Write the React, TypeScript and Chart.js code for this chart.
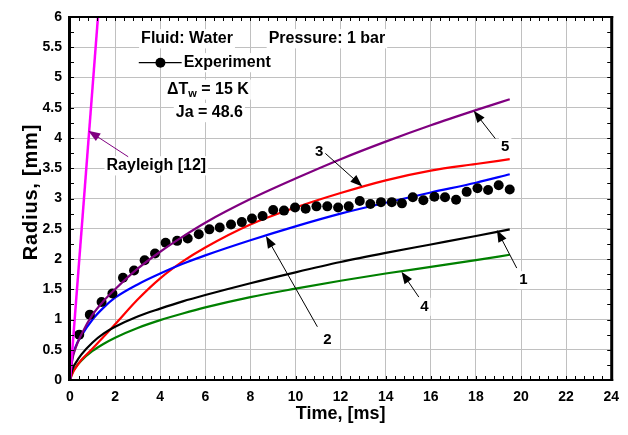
import React, { useEffect, useRef } from "react";
import { Chart, registerables } from "chart.js";

Chart.register(...registerables);

const FONT = '"Liberation Sans", Arial, sans-serif';

// Model curves sampled at these times (ms)
const curveTime = [0, 0.1, 0.25, 0.5, 1, 1.5, 2, 3, 4, 5, 6, 8, 10, 12, 14, 16, 18, 19.5];
const curve1Black = [0, 0.17, 0.28, 0.42, 0.62, 0.77, 0.88, 1.05, 1.18, 1.3, 1.405, 1.6, 1.78, 1.95, 2.1, 2.24, 2.38, 2.49];
const curve2Blue = [0, 0.35, 0.55, 0.73, 1.0, 1.2, 1.36, 1.58, 1.76, 1.92, 2.06, 2.31, 2.54, 2.75, 2.93, 3.1, 3.26, 3.4];
const curve3Red = [0, 0.1, 0.2, 0.33, 0.52, 0.72, 0.92, 1.33, 1.68, 1.96, 2.19, 2.57, 2.85, 3.09, 3.3, 3.46, 3.57, 3.65];
const curve4Green = [0, 0.12, 0.21, 0.32, 0.48, 0.6, 0.7, 0.86, 0.99, 1.1, 1.2, 1.37, 1.51, 1.64, 1.76, 1.87, 1.98, 2.07];
const curve5Purple = [0, 0.33, 0.53, 0.75, 1.08, 1.31, 1.5, 1.84, 2.12, 2.37, 2.6, 2.99, 3.33, 3.65, 3.94, 4.21, 4.46, 4.64];

// Rayleigh [12]
const rayleighTime = [0, 1.24];
const rayleighRadius = [0, 6];

// Experiment
const expTime = [0.41, 0.88, 1.4, 1.88, 2.35, 2.84, 3.31, 3.77, 4.24, 4.75, 5.22, 5.71, 6.18, 6.64, 7.14, 7.62, 8.07, 8.54, 9.01, 9.49, 9.98, 10.45, 10.93, 11.41, 11.89, 12.36, 12.85, 13.32, 13.79, 14.27, 14.72, 15.2, 15.67, 16.16, 16.63, 17.12, 17.59, 18.07, 18.54, 19.01, 19.5];
const expRadius = [0.75, 1.08, 1.29, 1.43, 1.69, 1.81, 1.98, 2.09, 2.27, 2.3, 2.34, 2.41, 2.49, 2.52, 2.57, 2.61, 2.67, 2.71, 2.81, 2.8, 2.85, 2.83, 2.87, 2.87, 2.85, 2.87, 2.96, 2.91, 2.94, 2.94, 2.92, 3.02, 2.97, 3.03, 3.02, 2.98, 3.11, 3.17, 3.14, 3.22, 3.15];

// Axes
const xMin = 0, xMax = 24, xStep = 2, xMinorStep = 0.4;
const yMin = 0, yMax = 6, yStep = 0.5, yMinorStep = 0.25;

// Curve labels: [label, textT, textR, tailT, tailR, headT, headR]
const curveLabels: [string, number, number, number, number, number, number][] = [
  ["1", 20.11, 1.65, 19.81, 1.85, 18.93, 2.48],
  ["2", 11.42, 0.67, 10.97, 0.88, 8.69, 2.38],
  ["3", 11.05, 3.77, 11.31, 3.75, 12.96, 3.2],
  ["4", 15.72, 1.21, 15.47, 1.37, 14.7, 1.79],
  ["5", 19.3, 3.85, 18.86, 3.99, 17.9, 4.45],
];

const pts = (xs: number[], ys: number[]) => xs.map((x, i) => ({ x, y: ys[i] }));

function drawArrow(ctx: CanvasRenderingContext2D, x1: number, y1: number, x2: number, y2: number, color: string) {
  const ang = Math.atan2(y2 - y1, x2 - x1);
  const len = 12, hw = 4.5;
  ctx.save();
  ctx.strokeStyle = color;
  ctx.fillStyle = color;
  ctx.lineWidth = 1;
  ctx.beginPath();
  ctx.moveTo(x1, y1);
  ctx.lineTo(x2 - Math.cos(ang) * len * 0.8, y2 - Math.sin(ang) * len * 0.8);
  ctx.stroke();
  ctx.beginPath();
  ctx.moveTo(x2, y2);
  ctx.lineTo(x2 - Math.cos(ang) * len - Math.sin(ang) * hw, y2 - Math.sin(ang) * len + Math.cos(ang) * hw);
  ctx.lineTo(x2 - Math.cos(ang) * len + Math.sin(ang) * hw, y2 - Math.sin(ang) * len - Math.cos(ang) * hw);
  ctx.closePath();
  ctx.fill();
  ctx.restore();
}

function boxText(ctx: CanvasRenderingContext2D, text: string, x: number, y: number, align: CanvasTextAlign, size: number) {
  ctx.save();
  ctx.font = `bold ${size}px ${FONT}`;
  const w = ctx.measureText(text).width;
  const left = align === "center" ? x - w / 2 : x;
  ctx.fillStyle = "#fff";
  ctx.fillRect(left - 2, y - size * 0.6, w + 4, size * 1.2);
  ctx.fillStyle = "#000";
  ctx.textAlign = "left";
  ctx.textBaseline = "middle";
  ctx.fillText(text, left, y);
  ctx.restore();
}

const decorPlugin = {
  id: "decor",
  afterDraw(chart: any) {
    const { ctx, chartArea: a, scales } = chart;
    const X = (v: number) => scales.x.getPixelForValue(v);
    const Y = (v: number) => scales.y.getPixelForValue(v);
    ctx.save();

    // minor ticks (inward)
    ctx.strokeStyle = "#000";
    ctx.lineWidth = 1;
    ctx.beginPath();
    for (let v = xMin; v <= xMax + 1e-9; v += xMinorStep) {
      const px = Math.round(X(v)) + 0.5;
      ctx.moveTo(px, a.bottom);
      ctx.lineTo(px, a.bottom - 4);
      ctx.moveTo(px, a.top);
      ctx.lineTo(px, a.top + 4);
    }
    for (let v = yMin; v <= yMax + 1e-9; v += yMinorStep) {
      const py = Math.round(Y(v)) + 0.5;
      ctx.moveTo(a.left, py);
      ctx.lineTo(a.left + 4, py);
      ctx.moveTo(a.right, py);
      ctx.lineTo(a.right - 4, py);
    }
    ctx.stroke();

    // frame
    ctx.fillStyle = "#000";
    ctx.fillRect(a.left - 2, a.top - 1, 3, a.bottom - a.top + 2);
    ctx.fillRect(a.right - 1, a.top - 1, 3, a.bottom - a.top + 2);
    ctx.fillRect(a.left - 2, a.top - 1, a.right - a.left + 4, 2);
    ctx.fillRect(a.left - 2, a.bottom - 1, a.right - a.left + 4, 2);

    // annotations
    boxText(ctx, "Fluid: Water", X(5.19), Y(5.64), "center", 16);
    boxText(ctx, "Pressure: 1 bar", X(8.81), Y(5.64), "left", 16);

    // legend
    const ly = Y(5.245);
    ctx.strokeStyle = "#000";
    ctx.lineWidth = 1.2;
    ctx.beginPath();
    ctx.moveTo(X(3.05), ly);
    ctx.lineTo(X(4.98), ly);
    ctx.stroke();
    ctx.beginPath();
    ctx.arc(X(4.01), ly, 5, 0, Math.PI * 2);
    ctx.fill();
    boxText(ctx, "Experiment", X(5.04), ly, "left", 16);

    // ΔTw
    {
      const x0 = X(4.3), y0 = Y(4.8);
      ctx.font = `bold 16px ${FONT}`;
      const w1 = ctx.measureText("\u0394T").width;
      const w3 = ctx.measureText(" = 15 K").width;
      ctx.font = `bold 11px ${FONT}`;
      const w2 = ctx.measureText("w").width;
      ctx.fillStyle = "#fff";
      ctx.fillRect(x0 - 2, y0 - 10, w1 + w2 + w3 + 4, 20);
      ctx.fillStyle = "#000";
      ctx.textBaseline = "middle";
      ctx.textAlign = "left";
      ctx.font = `bold 16px ${FONT}`;
      ctx.fillText("\u0394T", x0, y0);
      ctx.font = `bold 11px ${FONT}`;
      ctx.fillText("w", x0 + w1, y0 + 4);
      ctx.font = `bold 16px ${FONT}`;
      ctx.fillText(" = 15 K", x0 + w1 + w2, y0);
    }
    boxText(ctx, "Ja = 48.6", X(4.69), Y(4.42), "left", 16);

    // Rayleigh
    boxText(ctx, "Rayleigh [12]", X(1.62), Y(3.54), "left", 16);
    drawArrow(ctx, X(2.58), Y(3.69), X(0.81), Y(4.12), "#800080");

    // curve labels
    for (const [lab, tx, ty, t1, r1, t2, r2] of curveLabels) {
      drawArrow(ctx, X(t1), Y(r1), X(t2), Y(r2), "#000");
      boxText(ctx, lab, X(tx), Y(ty), "center", 15);
    }

    // axis titles
    ctx.fillStyle = "#000";
    ctx.font = `bold 18px ${FONT}`;
    ctx.textAlign = "center";
    ctx.textBaseline = "middle";
    ctx.fillText("Time, [ms]", (a.left + a.right) / 2, 414);
    ctx.save();
    ctx.translate(31, 192);
    ctx.rotate(-Math.PI / 2);
    ctx.font = `bold 20px ${FONT}`;
    (ctx as any).letterSpacing = "0.8px";
    ctx.fillText("Radius, [mm]", 0, 0);
    ctx.restore();

    ctx.restore();
  },
};

export default function App() {
  const ref = useRef<HTMLCanvasElement>(null);
  useEffect(() => {
    if (!ref.current) return;
    const line = (label: string, ys: number[], color: string, order: number) => ({
      label,
      data: pts(curveTime, ys),
      showLine: true,
      borderColor: color,
      backgroundColor: color,
      borderWidth: 2.2,
      pointRadius: 0,
      cubicInterpolationMode: "monotone" as const,
      order,
    });
    const tickFont = { family: FONT, size: 14, weight: "bold" as const };
    const chart = new Chart(ref.current, {
      type: "scatter",
      data: {
        datasets: [
          line("1", curve1Black, "#000000", 3),
          line("2", curve2Blue, "#0000ff", 3),
          line("3", curve3Red, "#ff0000", 3),
          line("4", curve4Green, "#008000", 3),
          {
            label: "Experiment",
            data: pts(expTime, expRadius),
            pointRadius: 5,
            pointBackgroundColor: "#000",
            pointBorderWidth: 0,
            showLine: false,
            order: 2,
          },
          line("5", curve5Purple, "#800080", 1),
          {
            label: "Rayleigh [12]",
            data: pts(rayleighTime, rayleighRadius),
            showLine: true,
            borderColor: "#ff00ff",
            borderWidth: 2.5,
            pointRadius: 0,
            order: 0,
          },
        ],
      },
      options: {
        animation: false,
        responsive: false,
        devicePixelRatio: 1,
        layout: { padding: { left: 0, top: 17, right: 15, bottom: 0 } },
        plugins: { legend: { display: false }, tooltip: { enabled: false } },
        scales: {
          x: {
            type: "linear",
            min: xMin,
            max: xMax,
            ticks: { stepSize: xStep, color: "#000", font: tickFont, padding: 9, maxRotation: 0, autoSkip: false },
            grid: { color: "#c0c0c0", lineWidth: 1, drawTicks: false },
            border: { display: false },
            afterFit: (s: any) => {
              s.height = 55;
            },
          },
          y: {
            type: "linear",
            min: yMin,
            max: yMax,
            ticks: { stepSize: yStep, color: "#000", font: tickFont, padding: 8, callback: (v: any) => String(v) },
            grid: { color: "#c0c0c0", lineWidth: 1, drawTicks: false },
            border: { display: false },
            afterFit: (s: any) => {
              s.width = 70;
            },
          },
        },
      },
      plugins: [decorPlugin],
    });
    return () => chart.destroy();
  }, []);
  return (
    <div style={{ position: "absolute", left: 0, top: 0, width: 628, height: 435, background: "#fff" }}>
      <canvas ref={ref} width={628} height={435} style={{ width: 628, height: 435, display: "block" }} />
    </div>
  );
}
